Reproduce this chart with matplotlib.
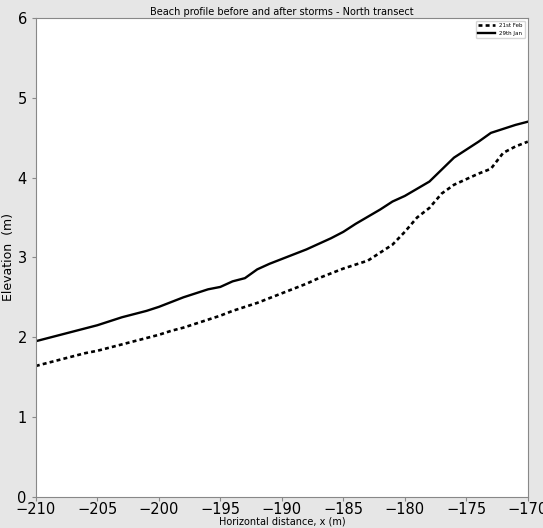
import matplotlib
matplotlib.use("Agg")
import matplotlib.pyplot as plt
import numpy as np

# horizontal distance (m)
x = np.arange(-210, -169, 1)

# elevation 21st Feb (m)
feb21 = [1.64, 1.68, 1.72, 1.76, 1.80, 1.83, 1.87, 1.91, 1.95, 1.99,
         2.03, 2.08, 2.12, 2.17, 2.22, 2.27, 2.33, 2.38, 2.43, 2.49,
         2.55, 2.61, 2.67, 2.74, 2.80, 2.86, 2.91, 2.96, 3.06, 3.16,
         3.32, 3.50, 3.62, 3.80, 3.91, 3.98, 4.05, 4.11, 4.31, 4.39,
         4.45]

# elevation 29th Jan (m)
jan29 = [1.95, 1.99, 2.03, 2.07, 2.11, 2.15, 2.20, 2.25, 2.29, 2.33,
         2.38, 2.44, 2.50, 2.55, 2.60, 2.63, 2.70, 2.74, 2.85, 2.92,
         2.98, 3.04, 3.10, 3.17, 3.24, 3.32, 3.42, 3.51, 3.60, 3.70,
         3.77, 3.86, 3.95, 4.10, 4.25, 4.35, 4.45, 4.56, 4.61, 4.66,
         4.70]

fig = plt.figure(figsize=(5.43, 5.28), dpi=100, facecolor='#e6e6e6')
ax = fig.add_axes([0.066, 0.059, 0.906, 0.907])
ax.set_facecolor('white')

ax.plot(x, feb21, color='black', lw=1.9, linestyle=(0, (1.5, 1.2)), label='21st Feb')
ax.plot(x, jan29, color='black', lw=1.7, label='29th Jan')

ax.set_xlim(-210, -170)
ax.set_ylim(0, 6)
ax.set_xticks(np.arange(-210, -169, 5))
ax.tick_params(labelsize=10.5, length=3, color='#888888')
ax.tick_params(axis='x', pad=1)
for s in ax.spines.values():
    s.set_color('#888888')

ax.set_title('Beach profile before and after storms - North transect', fontsize=7, pad=2)
ax.set_xlabel('Horizontal distance, x (m)', fontsize=7, labelpad=-1)
ax.set_ylabel('Elevation  (m)', fontsize=9, labelpad=2)
ax.legend(loc='upper right', fontsize=4, handlelength=3)

fig.savefig('out.png', dpi=100, facecolor=fig.get_facecolor())
